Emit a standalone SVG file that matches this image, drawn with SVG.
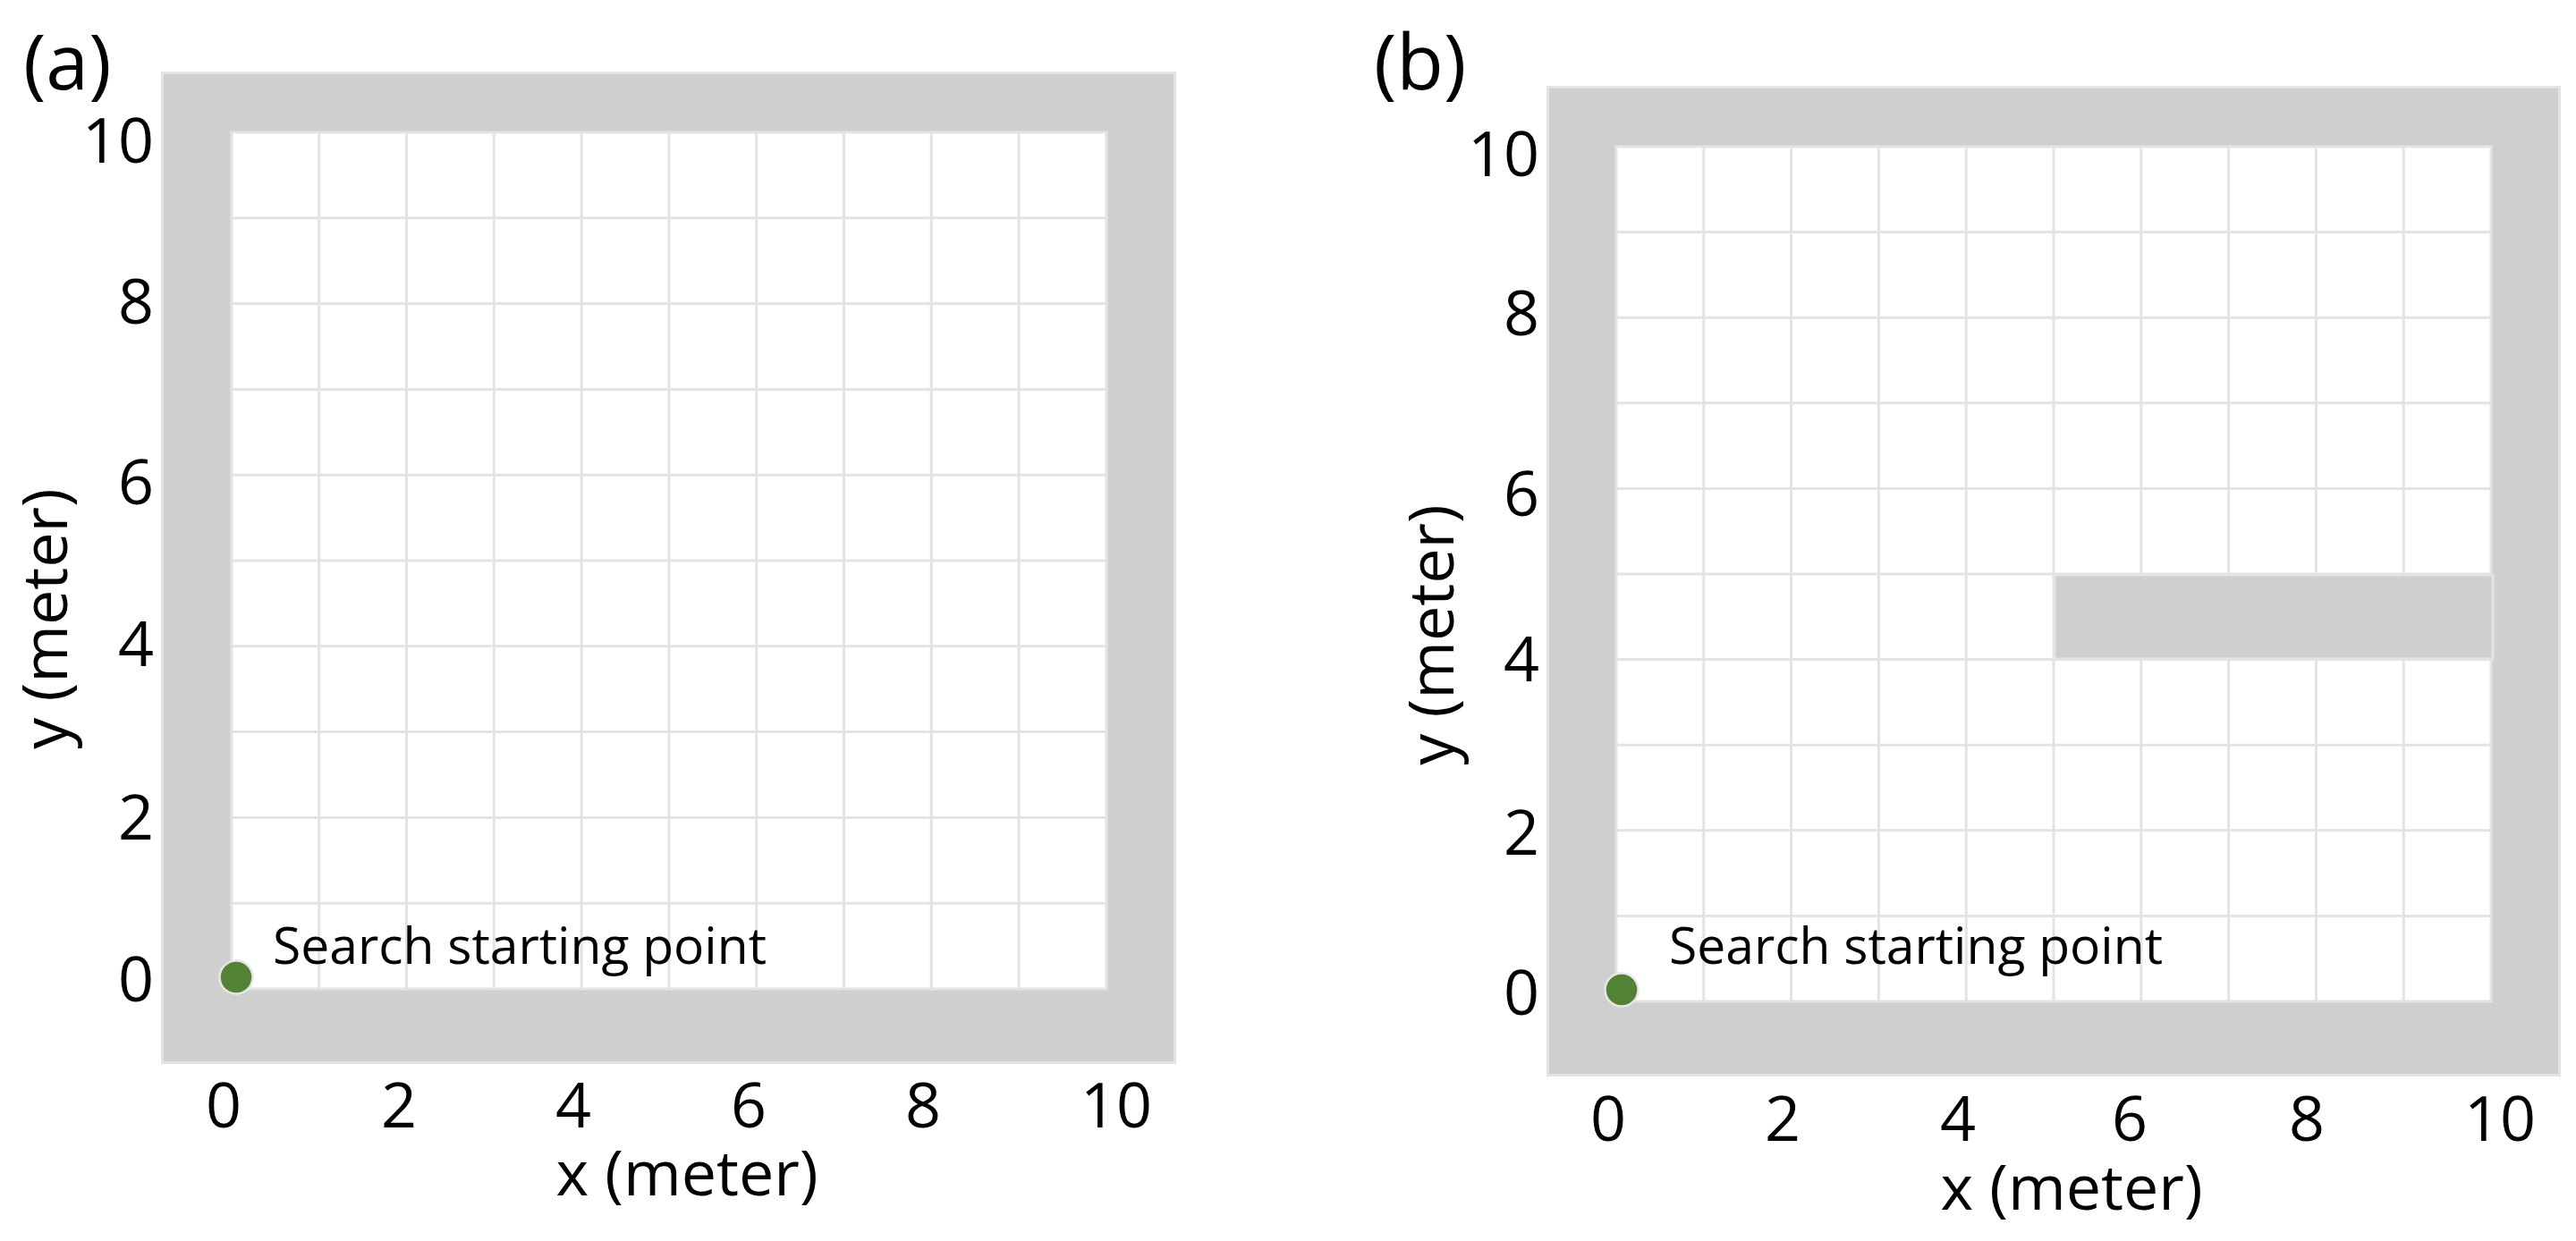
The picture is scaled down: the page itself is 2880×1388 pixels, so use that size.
<svg xmlns="http://www.w3.org/2000/svg" width="2880" height="1388" viewBox="0 0 2880 1388">
  <style>
    .wall { fill: #d0cfd0; stroke: #e3e3e3; stroke-width: 3; }
    .floor { fill: #ffffff; stroke: #e3e3e3; stroke-width: 3; }
    .grid { fill: none; stroke: #e3e3e3; stroke-width: 3; }
    .dot { fill: #548235; stroke: #e6e6e6; stroke-width: 2.5; }
    .tick { font-family: "Open Sans", "Liberation Sans", sans-serif; font-size: 70px; fill: #000; }
    .axis { font-family: "Open Sans", "Liberation Sans", sans-serif; font-size: 70px; fill: #000; text-anchor: middle; }
    .panel { font-family: "Open Sans", "Liberation Sans", sans-serif; font-size: 86px; fill: #000; }
    .note { font-family: "Open Sans", "Liberation Sans", sans-serif; font-size: 57px; fill: #000; }
    .yt { text-anchor: end; }
    .xt { text-anchor: middle; }
  </style>

  <g id="panel-a">
    <text class="panel" x="26" y="100">(a)</text>
    <rect id="a-wall" class="wall" x="181.5" y="81.5" width="1132" height="1107"/>
    <rect id="a-floor" class="floor" x="258.9" y="148" width="978" height="958"/>
    <path id="a-grid" class="grid" d="M356.7 148V1106M454.5 148V1106M552.3 148V1106M650.1 148V1106M747.9 148V1106M845.7 148V1106M943.5 148V1106M1041.3 148V1106M1139.1 148V1106M258.9 243.8H1236.9M258.9 339.6H1236.9M258.9 435.4H1236.9M258.9 531.2H1236.9M258.9 627H1236.9M258.9 722.8H1236.9M258.9 818.6H1236.9M258.9 914.4H1236.9M258.9 1010.2H1236.9"/>
    <g id="a-yticks" class="tick yt">
      <text x="172" y="182">10</text>
      <text x="172" y="362">8</text>
      <text x="172" y="564">6</text>
      <text x="172" y="745">4</text>
      <text x="172" y="939">2</text>
      <text x="172" y="1120">0</text>
    </g>
    <g id="a-xticks" class="tick xt">
      <text x="250" y="1261">0</text>
      <text x="446" y="1261">2</text>
      <text x="641" y="1261">4</text>
      <text x="837" y="1261">6</text>
      <text x="1032" y="1261">8</text>
      <text x="1248" y="1261">10</text>
    </g>
    <text class="axis" x="768" y="1337">x (meter)</text>
    <text class="axis" transform="translate(75 692) rotate(-90)">y (meter)</text>
    <g id="a-start">
      <circle class="dot" cx="264" cy="1093" r="18.5"/>
      <text class="note" x="305" y="1078">Search starting point</text>
    </g>
  </g>

  <g id="panel-b">
    <text class="panel" x="1536" y="100">(b)</text>
    <rect id="b-wall" class="wall" x="1730.5" y="97.5" width="1131" height="1105"/>
    <rect id="b-floor" class="floor" x="1807" y="164" width="978" height="956"/>
    <path id="b-grid" class="grid" d="M1904.8 164V1120M2002.6 164V1120M2100.4 164V1120M2198.2 164V1120M2296 164V1120M2393.8 164V1120M2491.6 164V1120M2589.4 164V1120M2687.2 164V1120M1807 259.6H2785M1807 355.2H2785M1807 450.8H2785M1807 546.4H2785M1807 642H2785M1807 737.6H2785M1807 833.2H2785M1807 928.8H2785M1807 1024.4H2785"/>
    <rect id="b-obstacle" class="wall" x="2297" y="643" width="490" height="94"/>
    <g id="b-yticks" class="tick yt">
      <text x="1721" y="197">10</text>
      <text x="1721" y="375">8</text>
      <text x="1721" y="577">6</text>
      <text x="1721" y="762">4</text>
      <text x="1721" y="956">2</text>
      <text x="1721" y="1135">0</text>
    </g>
    <g id="b-xticks" class="tick xt">
      <text x="1798" y="1276">0</text>
      <text x="1993" y="1276">2</text>
      <text x="2189" y="1276">4</text>
      <text x="2381" y="1276">6</text>
      <text x="2579" y="1276">8</text>
      <text x="2795" y="1276">10</text>
    </g>
    <text class="axis" x="2316" y="1353">x (meter)</text>
    <text class="axis" transform="translate(1625 710) rotate(-90)">y (meter)</text>
    <g id="b-start">
      <circle class="dot" cx="1813" cy="1107" r="18.5"/>
      <text class="note" x="1866" y="1078">Search starting point</text>
    </g>
  </g>
</svg>
